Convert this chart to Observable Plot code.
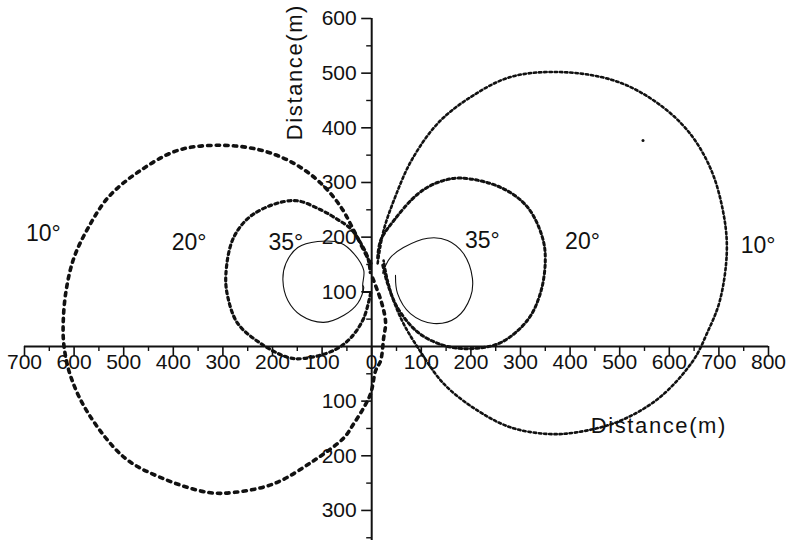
<!DOCTYPE html>
<html><head><meta charset="utf-8">
<script src="https://cdn.jsdelivr.net/npm/d3@7"></script>
<script src="https://cdn.jsdelivr.net/npm/@observablehq/plot@0.6"></script>
<style>body{margin:0;background:#fff;} svg{display:block}</style>
</head><body><div id="chart"></div>
<script>
// Trajectory points, [x (m), y (m)]
const left10 = [[2,125],[20,80],[28,44],[24,15],[18,-26],[8,-44],[-2,-86],[-16,-112],[-36,-141],[-56,-167],[-117,-209],[-197,-251],[-278,-267],[-330,-267],[-425,-240],[-499,-203],[-571,-123],[-606,-57],[-620,-2],[-622,42],[-616,103],[-600,163],[-571,218],[-531,273],[-471,319],[-390,359],[-304,368],[-223,359],[-157,335],[-103,299],[-62,255],[-36,212],[-16,176],[-2,152]];
const left20 = [[-2,98],[-16,52],[-42,16],[-76,-7],[-137,-22],[-169,-20],[-223,5],[-270,42],[-290,90],[-294,132],[-278,200],[-237,243],[-157,267],[-103,250],[-70,233],[-42,215],[-22,189],[-8,163],[-3,135]];
const left35 = [[-18,112],[-16,139],[-36,170],[-62,189],[-109,192],[-149,181],[-173,152],[-179,121],[-169,84],[-143,57],[-97,44],[-56,57],[-28,79],[-16,108]];
const left35Start = [[-2,99],[-18,99],[-18,112]];
const right10 = [[12,152],[24,212],[48,275],[80,340],[133,408],[199,456],[280,493],[380,502],[487,487],[567,451],[636,396],[682,328],[708,249],[716,176],[702,84],[676,24],[648,-26],[581,-93],[501,-136],[414,-157],[354,-160],[280,-148],[213,-117],[145,-68],[93,-2],[64,42],[44,84],[32,121],[24,157]];
const right20 = [[12,162],[18,194],[46,232],[93,279],[133,300],[179,308],[260,291],[314,255],[344,200],[350,158],[340,97],[314,48],[260,7],[199,-4],[145,2],[93,26],[52,71],[32,115],[22,150]];
const right35 = [[48,130],[52,97],[78,60],[125,42],[171,53],[199,90],[203,125],[185,170],[153,194],[113,198],[64,181],[38,163],[28,148],[22,134]];
const strayPoint = [[547,377]];

// Axes
const xMajor = [-700,-600,-500,-400,-300,-200,-100,0,100,200,300,400,500,600,700,800];
const xMinor = [-650,-550,-450,-350,-250,-150,-50,50,150,250,350,450,550,650,750];
const yMajor = [-300,-200,-100,100,200,300,400,500,600];
const yMinor = [-350,-250,-150,-50,50,150,250,350,450,550];

// Curve labels
const angleText = ["10°","20°","35°","35°","20°","10°"];
const angleX = [-662,-368,-173,223,425,779];
const angleY = [207,190,190,194,192,185];
const angleLabels = angleText.map((t,i)=>({t, x: angleX[i], y: angleY[i]}));

const px = d => d[0], py = d => d[1];
const ink = "#111";

const chart = Plot.plot({
  width: 787, height: 540,
  marginLeft: 24, marginRight: 19, marginTop: 18, marginBottom: 0,
  x: {domain: [-700, 800], axis: null},
  y: {domain: [-355, 600], axis: null},
  style: {fontFamily: "'Liberation Sans', Arial, sans-serif", background: "#fff", color: ink},
  marks: [
    // axis lines
    Plot.ruleY([0], {x1: -700, x2: 800, stroke: ink, strokeWidth: 2}),
    Plot.ruleX([0], {y1: -355, y2: 600, stroke: ink, strokeWidth: 2}),
    // x ticks (pointing down)
    Plot.ruleX(xMajor, {x: d => d, y1: 0, y2: 0, insetBottom: -10, stroke: ink, strokeWidth: 1.6}),
    Plot.ruleX(xMinor, {x: d => d, y1: 0, y2: 0, insetBottom: -5, stroke: ink, strokeWidth: 1.4}),
    // y ticks (pointing left)
    Plot.ruleY(yMajor, {y: d => d, x1: 0, x2: 0, insetLeft: -10, stroke: ink, strokeWidth: 1.6}),
    Plot.ruleY(yMinor, {y: d => d, x1: 0, x2: 0, insetLeft: -5, stroke: ink, strokeWidth: 1.4}),
    // tick labels
    Plot.text(xMajor, {x: d => d, y: 0, text: d => String(Math.abs(d)), dy: 16, fontSize: 21, fill: ink}),
    Plot.text(yMajor, {x: 0, y: d => d, text: d => String(Math.abs(d)), dx: -15, textAnchor: "end", fontSize: 21, fill: ink}),
    // titles
    Plot.text(["Distance(m)"], {x: -155, y: 502, rotate: -90, fontSize: 22, fill: ink}),
    Plot.text(["Distance(m)"], {x: 579, y: -145, fontSize: 22, fill: ink}),
    // curves
    Plot.line(left10, {x: px, y: py, curve: "catmull-rom", stroke: ink, strokeWidth: 3.6, strokeDasharray: "3.4 5.2"}),
    Plot.line(left20, {x: px, y: py, curve: "catmull-rom", stroke: ink, strokeWidth: 3.2, strokeDasharray: "3 3.6"}),
    Plot.line(right10, {x: px, y: py, curve: "catmull-rom", stroke: ink, strokeWidth: 2.6, strokeDasharray: "2.4 2.8"}),
    Plot.line(right20, {x: px, y: py, curve: "catmull-rom", stroke: ink, strokeWidth: 3, strokeDasharray: "2.8 3"}),
    Plot.line(left35, {x: px, y: py, curve: "catmull-rom-closed", stroke: ink, strokeWidth: 1.1}),
    Plot.line(left35Start, {x: px, y: py, stroke: ink, strokeWidth: 1.1}),
    Plot.line(right35, {x: px, y: py, curve: "catmull-rom", stroke: ink, strokeWidth: 1.1}),
    Plot.dot(strayPoint, {x: px, y: py, r: 1.5, fill: ink}),
    // angle labels
    Plot.text(angleLabels, {x: "x", y: "y", text: "t", fontSize: 23, fill: ink})
  ]
});
d3.select(chart).selectAll("text").filter(function(){ return this.textContent === "Distance(m)"; }).attr("letter-spacing", "1.6");
document.getElementById("chart").appendChild(chart);
</script>
</body></html>
